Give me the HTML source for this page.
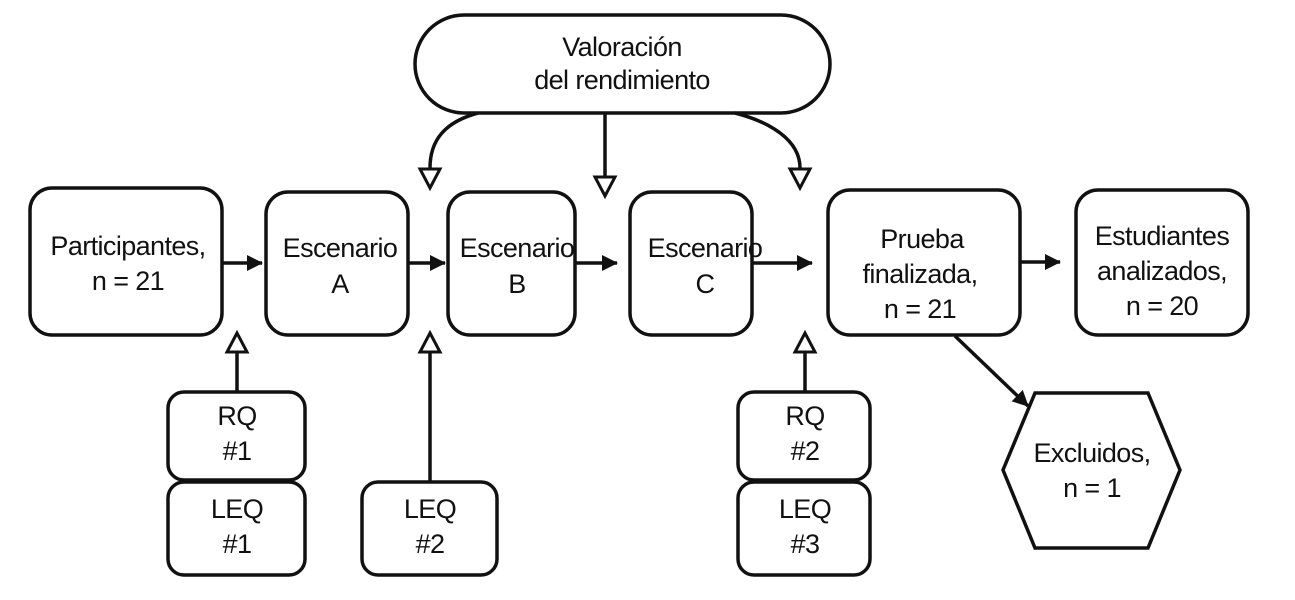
<!DOCTYPE html>
<html><head><meta charset="utf-8"><style>
html,body{margin:0;padding:0;background:#fff;}
svg text{font-family:"Liberation Sans",Arial,sans-serif;font-size:27px;fill:#111;text-anchor:middle;letter-spacing:-0.6px;}
</style></head><body>
<svg width="1295" height="595" viewBox="0 0 1295 595" xmlns="http://www.w3.org/2000/svg">
<defs>
<marker id="f" markerWidth="16" markerHeight="16" refX="15" refY="8" orient="auto" markerUnits="userSpaceOnUse" viewBox="0 0 16 16"><path d="M0,0 L16,8 L0,16 z" fill="#111"/></marker>
</defs>
<g fill="none" stroke="#111" stroke-width="3.5">
<rect x="415" y="15" width="415" height="98" rx="49"/>
<rect x="30" y="188" width="192" height="147" rx="22"/>
<rect x="266" y="192" width="142" height="143" rx="22"/>
<rect x="448" y="192" width="127" height="143" rx="22"/>
<rect x="630" y="192" width="122" height="143" rx="22"/>
<rect x="828" y="190" width="192" height="145" rx="22"/>
<rect x="1076" y="190" width="172" height="145" rx="22"/>
<rect x="168" y="392" width="137" height="88" rx="16"/>
<rect x="168" y="482" width="137" height="93" rx="16"/>
<rect x="362" y="482" width="135" height="93" rx="16"/>
<rect x="738" y="392" width="132" height="88" rx="16"/>
<rect x="738" y="482" width="132" height="93" rx="16"/>
<polygon points="1035,393 1148,393 1180,470 1148,548 1035,548 1003,470"/>
<path d="M478,113 C445,122 430,140 430,168"/>
<line x1="605" y1="113" x2="605" y2="176"/>
<path d="M735,113 C770,122 800,140 800,168"/>
<line x1="237" y1="392" x2="237" y2="352"/>
<line x1="430" y1="482" x2="430" y2="352"/>
<line x1="805" y1="392" x2="805" y2="352"/>
</g>
<g fill="#fff" stroke="#111" stroke-width="3">
<polygon points="420,169 440,169 430,188"/>
<polygon points="595,177 615,177 605,196"/>
<polygon points="790,169 810,169 800,188"/>
<polygon points="227,352 247,352 237,333"/>
<polygon points="420,352 440,352 430,333"/>
<polygon points="795,352 815,352 805,333"/>
</g>
<g stroke="#111" stroke-width="3.5" fill="none">
<line x1="222" y1="263" x2="262" y2="263" marker-end="url(#f)"/>
<line x1="408" y1="263" x2="445" y2="263" marker-end="url(#f)"/>
<line x1="575" y1="263" x2="617" y2="263" marker-end="url(#f)"/>
<line x1="752" y1="263" x2="812" y2="263" marker-end="url(#f)"/>
<line x1="1020" y1="262" x2="1060" y2="262" marker-end="url(#f)"/>
<line x1="955" y1="336" x2="1028" y2="406" marker-end="url(#f)"/>
</g>
<text x="622" y="56">Valoración</text>
<text x="622" y="89">del rendimiento</text>
<text x="128" y="255">Participantes,</text>
<text x="128" y="290">n = 21</text>
<text x="340" y="257">Escenario</text>
<text x="340" y="293">A</text>
<text x="517" y="257">Escenario</text>
<text x="517" y="293">B</text>
<text x="705" y="257">Escenario</text>
<text x="705" y="293">C</text>
<text x="922" y="248">Prueba</text>
<text x="920" y="283">finalizada,</text>
<text x="920" y="318">n = 21</text>
<text x="1162" y="245">Estudiantes</text>
<text x="1162" y="280">analizados,</text>
<text x="1162" y="315">n = 20</text>
<text x="1092" y="462">Excluidos,</text>
<text x="1092" y="497">n = 1</text>
<text x="237" y="425">RQ</text>
<text x="237" y="460">#1</text>
<text x="237" y="518">LEQ</text>
<text x="237" y="553">#1</text>
<text x="430" y="518">LEQ</text>
<text x="430" y="553">#2</text>
<text x="805" y="425">RQ</text>
<text x="805" y="460">#2</text>
<text x="805" y="518">LEQ</text>
<text x="805" y="553">#3</text>
</svg>
</body></html>
